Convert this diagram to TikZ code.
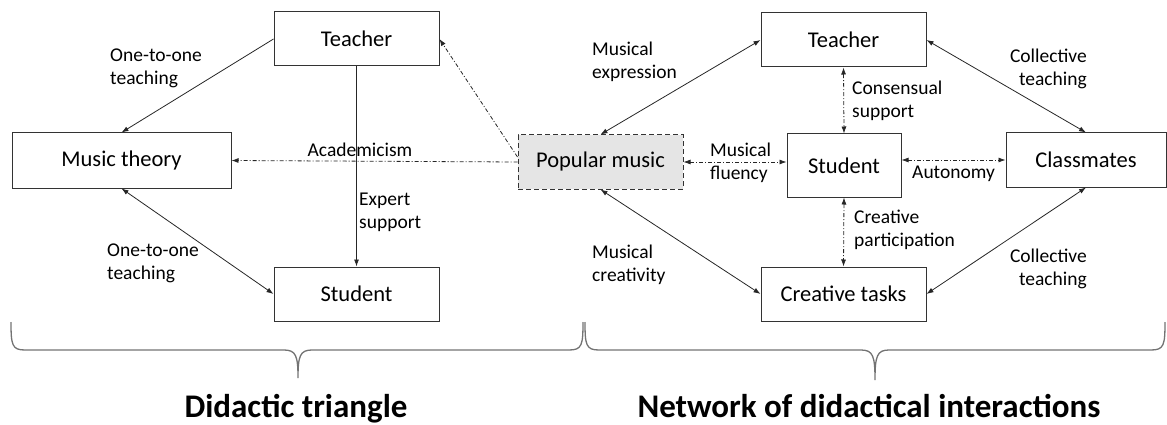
\documentclass[tikz,border=0pt]{standalone}
\usepackage{fontspec}
\setmainfont{Carlito}
\usetikzlibrary{arrows.meta}
\begin{document}
\begin{tikzpicture}[x=1pt,y=-1pt,
  arr/.tip={Latex[length=7pt,width=5pt]},
  box/.style={draw=black!80, line width=1pt, minimum width=165pt, minimum height=54pt, inner sep=0pt, font=\fontsize{22.5}{27}\selectfont},
  lbl/.style={inner sep=0pt, font=\fontsize{19.5}{23}\selectfont, align=left},
  conn/.style={line width=0.8pt, draw=black!85},
  dd/.style={conn, dash pattern=on 4pt off 2pt on 1pt off 2pt},
  brace/.style={draw=black!55, line width=1.3pt},
  title/.style={inner sep=0pt, anchor=base, font=\fontsize{33}{38}\selectfont\bfseries}]
\useasboundingbox (0,0) rectangle (1167,425);
% left part
\node[box] (tl) at (356.5,39) {Teacher};
\node[box, minimum width=219pt, minimum height=55pt] (mt) at (121.5,160.5) {Music theory};
\node[box] (ls) at (356.5,294) {Student};
% center
\node[box, dash pattern=on 5pt off 3pt, fill=black!10] (pop) at (600.5,162) {Popular music};
% right part
\node[box] (rt) at (843.5,40) {Teacher};
\node[box, minimum width=114pt, minimum height=63pt] (st) at (844,165.5) {Student};
\node[box, minimum width=160pt] (cm) at (1086,160) {Classmates};
\node[box] (ct) at (843.5,294) {Creative tasks};
% left connectors
\draw[conn, -arr] (tl.west) -- (mt.north);
\draw[conn, arr-arr] (mt.south) -- (ls.west);
\draw[conn, -arr] (tl.south) -- (ls.north);
\draw[dd, -arr] (pop.west) -- (mt.east);
\draw[dd, -arr] ([yshift=5pt]pop.west) -- (tl.east);
% right connectors
\draw[conn, arr-arr] (pop.north) -- (rt.west);
\draw[conn, arr-arr] (pop.south) -- (ct.west);
\draw[conn, arr-arr] (rt.east) -- (cm.north);
\draw[conn, arr-arr] (ct.east) -- (cm.south);
\draw[dd, arr-arr] (rt.south) -- (st.north);
\draw[dd, arr-arr] (st.south) -- (ct.north);
\draw[dd, arr-arr] (pop.east) -- (pop.east -| st.west);
\draw[dd, arr-arr] (st.east |- cm.west) -- (cm.west);
% labels
\node[lbl, anchor=west] (l1) at (110,68.5) {One-to-one\\teaching};
\node[lbl, anchor=west] (l2) at (107,263.5) {One-to-one\\teaching};
\node[lbl, anchor=west] (l3) at (359,212) {Expert\\support};
\node[lbl] (l4) at (360,150) {Academicism};
\node[lbl, anchor=west] (l5) at (592,62) {Musical\\expression};
\node[lbl, anchor=east, align=right] (l6) at (1087,68.5) {Collective\\teaching};
\node[lbl, anchor=west] (l7) at (852,101) {Consensual\\support};
\node[lbl, anchor=west] (l8) at (710,162.5) {Musical\\fluency};
\node[lbl, anchor=west] (l9) at (912,174) {Autonomy};
\node[lbl, anchor=west] (l10) at (854,229.5) {Creative\\participation};
\node[lbl, anchor=west] (l11) at (592,265) {Musical\\creativity};
\node[lbl, anchor=east, align=right] (l12) at (1087,268.5) {Collective\\teaching};
% braces
\draw[brace] (11,322) .. controls (11,345) and (12,350) .. (25,350) -- (284,350)
  .. controls (296,350) and (298,356) .. (298,378)
  .. controls (298,356) and (300,350) .. (312,350) -- (569,350)
  .. controls (582,350) and (583,345) .. (583,322);
\draw[brace] (585,322) .. controls (585,345) and (586,350) .. (599,350) -- (861,350)
  .. controls (873,350) and (875,356) .. (875,380)
  .. controls (875,356) and (877,350) .. (889,350) -- (1151,350)
  .. controls (1164,350) and (1165,345) .. (1165,322);
% titles
\node[title] (t1) at (296,417) {Didactic triangle};
\node[title] (t2) at (869,417) {Network of didactical interactions};
\end{tikzpicture}
\end{document}
